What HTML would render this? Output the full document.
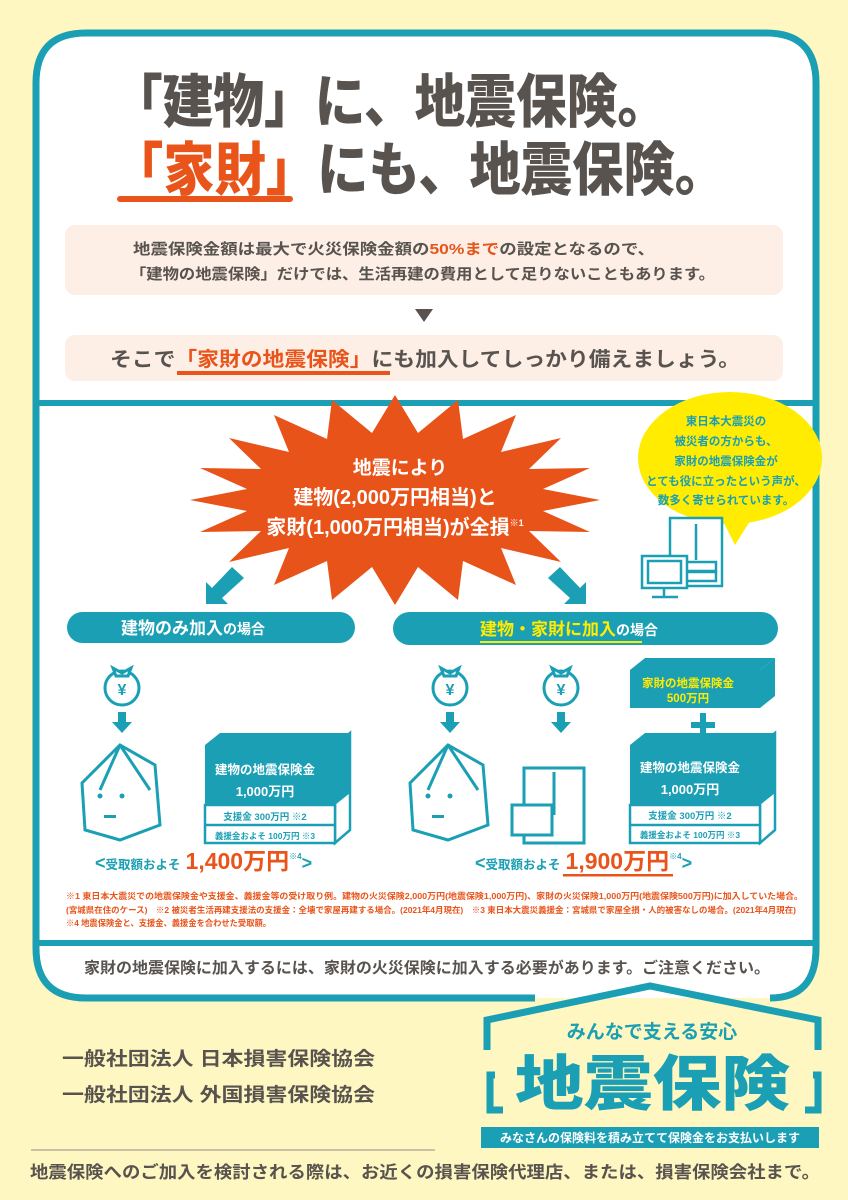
<!DOCTYPE html>
<html><head><meta charset="utf-8"><style>
html,body{margin:0;padding:0;background:#fef7c1;}
svg{display:block;font-family:"Liberation Sans","Noto Sans CJK JP",sans-serif;}
</style></head><body>
<svg width="848" height="1200" viewBox="0 0 848 1200" xmlns="http://www.w3.org/2000/svg">
<rect width="848" height="1200" fill="#fef7c1"/>
<path d="M535,998 L86,998 Q36,998 36,948 L36,83 Q36,33 86,33 L766,33 Q816,33 816,83 L816,948 Q816,998 770,998" fill="#fff" stroke="#1a9fb4" stroke-width="7"/>
<line x1="36" y1="403" x2="816" y2="403" stroke="#1a9fb4" stroke-width="6"/>
<line x1="36" y1="943" x2="816" y2="943" stroke="#1a9fb4" stroke-width="6"/>
<g font-weight="900" fill="#58534f" font-size="58">
<text x="112" y="122" textLength="556" lengthAdjust="spacingAndGlyphs">「建物」に、地震保険。</text>
<text x="112" y="190" textLength="614" lengthAdjust="spacingAndGlyphs"><tspan fill="#e8541a">「家財」</tspan>にも、地震保険。</text>
</g>
<rect x="117" y="196" width="176" height="6" rx="3" fill="#e8541a"/>
<rect x="65" y="225" width="718" height="70" rx="10" fill="#fdeee6"/>
<g font-weight="700" fill="#58534f" font-size="15">
<text x="133" y="254" textLength="522" lengthAdjust="spacingAndGlyphs">地震保険金額は最大で火災保険金額の<tspan fill="#e8541a">50%まで</tspan>の設定となるので、</text>
<text x="130" y="279" textLength="585" lengthAdjust="spacingAndGlyphs">「建物の地震保険」だけでは、生活再建の費用として足りないこともあります。</text>
</g>
<path d="M415,309 L433,309 L424,322 Z" fill="#58534f"/>
<rect x="65" y="335" width="718" height="46" rx="10" fill="#fdeee6"/>
<text x="110" y="366" font-weight="700" font-size="20" fill="#58534f" textLength="630" lengthAdjust="spacingAndGlyphs">そこで<tspan fill="#e8541a">「家財の地震保険」</tspan>にも加入してしっかり備えましょう。</text>
<rect x="177" y="371" width="213" height="4" fill="#e8541a"/>
<polygon fill="#e8531a" points="600,500 543,511 590,532 529,531 561,562 501,548 516,585 463,561 458,600 418,567 395,605 372,567 332,600 327,561 274,585 289,548 229,562 261,531 200,532 247,511 190,500 247,489 200,468 261,469 229,438 289,452 274,415 327,439 332,400 372,433 395,395 418,433 458,400 463,439 516,415 501,452 561,438 529,469 590,468 543,489"/>
<g fill="#fff" font-weight="700" text-anchor="middle">
<text x="400" y="474" font-size="19">地震により</text>
<text x="395" y="504" font-size="20">建物(2,000万円相当)と</text>
<text x="395" y="534" font-size="20">家財(1,000万円相当)が全損<tspan font-size="9" dy="-8">※1</tspan></text>
</g>
<path d="M715,505 L735,545 L760,505 Z" fill="#ffec00"/>
<ellipse cx="730" cy="458" rx="92" ry="66" fill="#ffec00"/>
<g fill="#1a9fb4" font-weight="700" font-size="11.5" text-anchor="middle">
<text x="726" y="425">東日本大震災の</text>
<text x="726" y="445">被災者の方からも、</text>
<text x="726" y="465">家財の地震保険金が</text>
<text x="726" y="485">とても役に立ったという声が、</text>
<text x="726" y="504">数多く寄せられています。</text>
</g>
<g fill="#fff" stroke="#1a9fb4" stroke-width="2.5">
<rect x="670" y="518" width="52" height="68"/>
<line x1="696" y1="524" x2="696" y2="560"/>
<rect x="678" y="562" width="38" height="9"/><rect x="678" y="572" width="38" height="9"/>
<rect x="642" y="556" width="45" height="32"/>
<rect x="648" y="561" width="33" height="22"/>
<line x1="664" y1="588" x2="664" y2="596"/><line x1="652" y1="597" x2="678" y2="597"/>
</g>
<g fill="#1a9fb4">
<path d="M232,567 L244,578 L222,598 L228,604 L206,604 L206,582 L212,588 Z"/>
<path d="M560,567 L548,578 L570,598 L564,604 L586,604 L586,582 L580,588 Z"/>
</g>
<rect x="67" y="612" width="288" height="31" rx="15.5" fill="#1a9fb4"/>
<text x="121" y="634" fill="#fff" font-weight="700" font-size="17">建物のみ加入<tspan font-size="14">の場合</tspan></text>
<rect x="393" y="612" width="385" height="33" rx="16.5" fill="#1a9fb4"/>
<text x="480" y="635" fill="#ffec00" font-weight="700" font-size="17">建物・家財に加入<tspan fill="#fff" font-size="14">の場合</tspan></text>
<rect x="480" y="641" width="162" height="2" fill="#ffec00"/>
<g fill="#fff" stroke="#1a9fb4" stroke-width="3">
<ellipse cx="122" cy="688" rx="17" ry="17"/><path d="M113,668 L122,673 L131,668 L128,676 L116,676 Z"/>
<ellipse cx="450" cy="688" rx="17" ry="17"/><path d="M441,668 L450,673 L459,668 L456,676 L444,676 Z"/>
<ellipse cx="561" cy="688" rx="17" ry="17"/><path d="M552,668 L561,673 L570,668 L567,676 L555,676 Z"/>
</g>
<g fill="#1a9fb4" font-weight="700" font-size="16" text-anchor="middle">
<text x="122" y="695">¥</text><text x="450" y="695">¥</text><text x="561" y="695">¥</text>
</g>
<g fill="#1a9fb4">
<path d="M118,712 h8 v10 h6 l-10,11 l-10,-11 h6 z"/>
<path d="M446,712 h8 v10 h6 l-10,11 l-10,-11 h6 z"/>
<path d="M557,712 h8 v10 h6 l-10,11 l-10,-11 h6 z"/>
</g>
<g fill="#fff" stroke="#1a9fb4" stroke-width="3">
<path d="M82,783 L120,745 L155,765 L160,825 L120,840 L85,830 Z"/>
<path d="M120,745 L100,790 M120,745 L150,790"/>
<path d="M410,783 L448,745 L483,765 L488,825 L448,840 L413,830 Z"/>
<path d="M448,745 L428,790 M448,745 L478,790"/>
<rect x="524" y="768" width="60" height="75"/>
<line x1="554" y1="772" x2="554" y2="815"/>
<rect x="512" y="805" width="40" height="30"/>
</g>
<g fill="#1a9fb4">
<circle cx="100" cy="796" r="2.5"/><circle cx="122" cy="796" r="2.5"/><rect x="104" y="815" width="12" height="3"/>
<circle cx="428" cy="796" r="2.5"/><circle cx="450" cy="796" r="2.5"/><rect x="432" y="815" width="12" height="3"/>
</g>
<path d="M205,745 L220,733 L350,733 L335,745 Z" fill="#1a9fb4"/>
<rect x="205" y="745" width="130" height="60" fill="#1a9fb4"/>
<path d="M335,745 L350,733 L350,830 L335,843 Z" fill="#fff" stroke="#1a9fb4" stroke-width="2.5"/>
<path d="M335,745 L350,733 L350,793 L335,805 Z" fill="#1a9fb4"/>
<rect x="205" y="805" width="130" height="38" fill="#fff" stroke="#1a9fb4" stroke-width="2.5"/>
<line x1="205" y1="825" x2="335" y2="825" stroke="#1a9fb4" stroke-width="2.5"/>
<g text-anchor="middle" font-weight="700">
<text x="265" y="774" fill="#fff" font-size="12.5">建物の地震保険金</text>
<text x="265" y="796" fill="#fff" font-size="13">1,000万円</text>
<text x="265" y="820" fill="#1a9fb4" font-size="9.5">支援金 300万円 ※2</text>
<text x="265" y="839" fill="#1a9fb4" font-size="8.5">義援金およそ 100万円 ※3</text>
</g>
<path d="M630,670 L645,658 L775,658 L760,670 Z" fill="#1a9fb4"/>
<rect x="630" y="670" width="130" height="38" fill="#1a9fb4"/>
<path d="M760,670 L775,658 L775,696 L760,708 Z" fill="#1a9fb4"/>
<rect x="700" y="713" width="6" height="24" fill="#1a9fb4"/><rect x="691" y="722" width="24" height="6" fill="#1a9fb4"/>
<path d="M630,745 L645,733 L775,733 L760,745 Z" fill="#1a9fb4"/>
<rect x="630" y="745" width="130" height="60" fill="#1a9fb4"/>
<path d="M760,745 L775,733 L775,830 L760,843 Z" fill="#fff" stroke="#1a9fb4" stroke-width="2.5"/>
<path d="M760,745 L775,733 L775,793 L760,805 Z" fill="#1a9fb4"/>
<rect x="630" y="805" width="130" height="38" fill="#fff" stroke="#1a9fb4" stroke-width="2.5"/>
<line x1="630" y1="825" x2="760" y2="825" stroke="#1a9fb4" stroke-width="2.5"/>
<g text-anchor="middle" font-weight="700">
<text x="688" y="687" fill="#ffec00" font-size="11.5">家財の地震保険金</text>
<text x="688" y="702" fill="#ffec00" font-size="11.5">500万円</text>
<text x="690" y="772" fill="#fff" font-size="12.5">建物の地震保険金</text>
<text x="690" y="794" fill="#fff" font-size="13">1,000万円</text>
<text x="690" y="819" fill="#1a9fb4" font-size="9.5">支援金 300万円 ※2</text>
<text x="690" y="838" fill="#1a9fb4" font-size="8.5">義援金およそ 100万円 ※3</text>
</g>
<g font-weight="700">
<text x="95" y="869" fill="#1a9fb4" font-size="18">&lt;<tspan font-size="12.5">受取額およそ</tspan> <tspan fill="#e8541a" font-size="23">1,400万円</tspan><tspan font-size="8" dy="-10">※4</tspan><tspan dy="10">&gt;</tspan></text>
<text x="475" y="869" fill="#1a9fb4" font-size="18">&lt;<tspan font-size="12.5">受取額およそ</tspan> <tspan fill="#e8541a" font-size="23">1,900万円</tspan><tspan font-size="8" dy="-10">※4</tspan><tspan dy="10">&gt;</tspan></text>
</g>
<rect x="563" y="874" width="110" height="2.5" fill="#e8541a"/>
<g fill="#e8541a" font-size="8.3" font-weight="700">
<text x="66" y="899" textLength="737" lengthAdjust="spacingAndGlyphs">※1 東日本大震災での地震保険金や支援金、義援金等の受け取り例。建物の火災保険2,000万円(地震保険1,000万円)、家財の火災保険1,000万円(地震保険500万円)に加入していた場合。</text>
<text x="66" y="913" textLength="730" lengthAdjust="spacingAndGlyphs">(宮城県在住のケース)　※2 被災者生活再建支援法の支援金：全壊で家屋再建する場合。(2021年4月現在)　※3 東日本大震災義援金：宮城県で家屋全損・人的被害なしの場合。(2021年4月現在)</text>
<text x="66" y="926" textLength="205" lengthAdjust="spacingAndGlyphs">※4 地震保険金と、支援金、義援金を合わせた受取額。</text>
</g>
<text x="84" y="973" fill="#58534f" font-weight="700" font-size="15.5" textLength="686" lengthAdjust="spacingAndGlyphs">家財の地震保険に加入するには、家財の火災保険に加入する必要があります。ご注意ください。</text>
<g fill="none" stroke="#1a9fb4" stroke-width="7">
<path d="M487,1050 L487,1020 L650,986 L818,1020 L818,1050"/>
<path d="M495,1075 L490,1075 L490,1110 L503,1110"/>
<path d="M813,1075 L818,1075 L818,1110 L805,1110"/>
</g>
<text x="652" y="1038" fill="#1a9fb4" font-size="19" font-weight="700" text-anchor="middle">みんなで支える安心</text>
<text x="515" y="1105" fill="#1a9fb4" font-size="60" font-weight="900" textLength="275" lengthAdjust="spacingAndGlyphs">地震保険</text>
<rect x="481" y="1127" width="338" height="21" fill="#1a9fb4"/>
<text x="650" y="1142" fill="#fff" font-size="12" font-weight="700" text-anchor="middle">みなさんの保険料を積み立てて保険金をお支払いします</text>
<g fill="#58534f" font-size="19" font-weight="700">
<text x="62" y="1065" textLength="313" lengthAdjust="spacingAndGlyphs">一般社団法人 日本損害保険協会</text>
<text x="62" y="1101" textLength="313" lengthAdjust="spacingAndGlyphs">一般社団法人 外国損害保険協会</text>
</g>
<line x1="31" y1="1150" x2="435" y2="1150" stroke="#a8a39a" stroke-width="1.2"/>
<text x="30" y="1178" fill="#58534f" font-size="17" font-weight="700" textLength="790" lengthAdjust="spacingAndGlyphs">地震保険へのご加入を検討される際は、お近くの損害保険代理店、または、損害保険会社まで。</text>
</svg>
</body></html>
